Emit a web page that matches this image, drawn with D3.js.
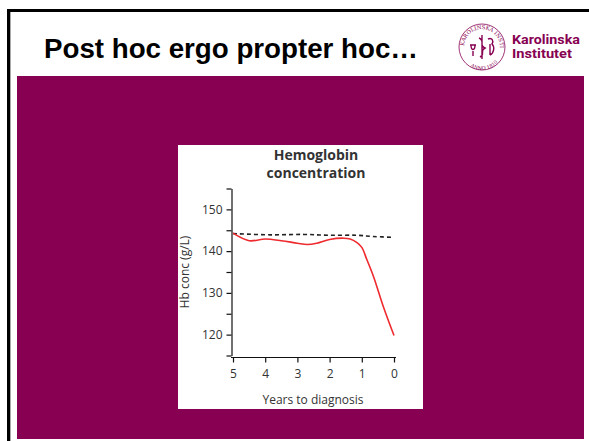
<!DOCTYPE html>
<html>
  <head>
    <title>Post hoc ergo propter hoc</title>
    <script src="https://cdn.jsdelivr.net/npm/d3@7"></script>
    <style type="text/css">

html, body {
  margin: 0;
  padding: 0;
  background: #fff;
}

svg {
  display: block;
}

.tick text, .label {
  font-family: "Open Sans", sans-serif;
  fill: #333;
}

    </style>
  </head>
  <body>
    <script type="text/javascript">

// values
var years = [5, 4.5, 4, 3.5, 3, 2.7, 2.4, 2, 1.57, 1.36, 1.16, 1, 0.85, 0.64, 0.33, 0];
var hbCases = [144.3, 142.5, 142.9, 142.5, 141.9, 141.6, 141.9, 142.8, 143.1, 142.9, 142.1, 140.9, 138.1, 134.0, 126.7, 119.8];
var ctrlYears = [5, 3.84, 2.8, 2, 1.16, 0.64, 0];
var hbControls = [144.2, 143.9, 144.0, 143.8, 143.8, 143.5, 143.3];
var yTicks = [115, 120, 125, 130, 135, 140, 145, 150, 155];
var xTicks = [5, 4, 3, 2, 1, 0];

var purple = "#870052";

var svg = d3.select("body")
  .append("svg")
    .attr("width", 589)
    .attr("height", 441);

// slide frame
svg.append("rect")
    .attr("x", 0).attr("y", 0)
    .attr("width", 589).attr("height", 441)
    .attr("fill", "#fff");
svg.append("path")
    .attr("d", "M8.5,441V10.5H589")
    .attr("fill", "none")
    .attr("stroke", "#000")
    .attr("stroke-width", 3);
svg.append("line")
    .attr("x1", 10.5).attr("x2", 10.5)
    .attr("y1", 12).attr("y2", 441)
    .attr("stroke", "#aaa");

svg.append("text")
    .attr("x", 44)
    .attr("y", 58)
    .attr("font-family", "Liberation Sans, Arial, sans-serif")
    .attr("font-weight", "bold")
    .attr("font-size", 27)
    .attr("fill", "#000")
    .attr("textLength", 374)
    .attr("lengthAdjust", "spacingAndGlyphs")
    .text("Post hoc ergo propter hoc\u2026");

// Karolinska logo
var logo = svg.append("g").attr("transform", "translate(482,47)");
logo.append("circle")
    .attr("r", 23)
    .attr("fill", "none")
    .attr("stroke", purple)
    .attr("stroke-width", 0.8);
logo.append("path")
    .attr("id", "ring")
    .attr("d", "M-18,0A18,18 0 1,1 18,0")
    .attr("fill", "none");
logo.append("text")
    .attr("font-family", "DejaVu Serif, serif")
    .attr("font-size", 5.4)
    .attr("fill", purple)
  .append("textPath")
    .attr("href", "#ring")
    .attr("startOffset", "2%")
    .text("KAROLINSKA INSTITUTET");
logo.append("path")
    .attr("id", "ring2")
    .attr("d", "M-20,3A20,20 0 0,0 20,3")
    .attr("fill", "none");
logo.append("text")
    .attr("font-family", "DejaVu Serif, serif")
    .attr("font-size", 5)
    .attr("fill", purple)
  .append("textPath")
    .attr("href", "#ring2")
    .attr("startOffset", "30%")
    .text("ANNO 1810");
logo.append("path")
    .attr("d", "M0,-12V12M-3,-9C4,-6 -4,-2 3,1C-3,4 4,7 -2,10M-12,-2H-6M-11,-2C-11,4 -7,4 -7,-2M-9,4V9M6,-8C10,-10 12,-6 10,-3C13,0 12,6 8,8M8,-3V8")
    .attr("fill", "none")
    .attr("stroke", purple)
    .attr("stroke-width", 1.4);
svg.append("text")
    .attr("x", 512).attr("y", 43.5)
    .attr("font-family", "Roboto, Liberation Sans, sans-serif")
    .attr("font-weight", "bold")
    .attr("font-size", 12)
    .attr("fill", purple)
    .attr("textLength", 68)
    .attr("lengthAdjust", "spacingAndGlyphs")
    .text("Karolinska");
svg.append("text")
    .attr("x", 512).attr("y", 58)
    .attr("font-family", "Roboto, Liberation Sans, sans-serif")
    .attr("font-weight", "bold")
    .attr("font-size", 12)
    .attr("fill", purple)
    .attr("textLength", 60)
    .attr("lengthAdjust", "spacingAndGlyphs")
    .text("Institutet");

// purple panel and white figure
svg.append("rect")
    .attr("x", 17).attr("y", 76)
    .attr("width", 567).attr("height", 363)
    .attr("fill", purple);
svg.append("rect")
    .attr("x", 178).attr("y", 145)
    .attr("width", 245).attr("height", 264)
    .attr("fill", "#fff");

var x = d3.scaleLinear().domain([5, 0]).range([233, 394]);
var y = d3.scaleLinear().domain([115, 155]).range([355.5, 188.5]);

var yAxis = d3.axisLeft(y)
    .tickValues(yTicks)
    .tickSize(5)
    .tickSizeOuter(0)
    .tickPadding(4)
    .tickFormat(function(d) { return d % 10 === 0 ? d : ""; });

svg.append("g")
    .attr("transform", "translate(231.5,0)")
    .call(yAxis)
    .call(function(g) {
      g.select(".domain").attr("stroke", "#111").attr("stroke-width", 1.2);
      g.selectAll(".tick line").attr("stroke", "#111").attr("stroke-width", 1.2);
      g.selectAll(".tick text").attr("font-size", 12).attr("fill", "#333");
    });

var xAxis = d3.axisBottom(x)
    .tickValues(xTicks)
    .tickSize(5)
    .tickSizeOuter(0)
    .tickPadding(7)
    .tickFormat(d3.format("d"));

svg.append("g")
    .attr("transform", "translate(0,357.5)")
    .call(xAxis)
    .call(function(g) {
      g.select(".domain").attr("d", "M231,0H396").attr("stroke", "#111").attr("stroke-width", 1.2);
      g.selectAll(".tick line").attr("stroke", "#111").attr("stroke-width", 1.2);
      g.selectAll(".tick text").attr("font-size", 12).attr("fill", "#333");
    });

var line = d3.line()
    .x(function(d) { return x(d[0]); })
    .y(function(d) { return y(d[1]); })
    .curve(d3.curveCatmullRom);

svg.append("path")
    .datum(d3.zip(ctrlYears, hbControls))
    .attr("d", line)
    .attr("fill", "none")
    .attr("stroke", "#222")
    .attr("stroke-width", 1.6)
    .attr("stroke-dasharray", "4,3");

svg.append("path")
    .datum(d3.zip(years, hbCases))
    .attr("d", line)
    .attr("fill", "none")
    .attr("stroke", "#ee2a2e")
    .attr("stroke-width", 1.6);

svg.append("text")
    .attr("class", "label")
    .attr("x", 316).attr("y", 160)
    .attr("text-anchor", "middle")
    .attr("font-size", 14)
    .attr("font-weight", "bold")
    .text("Hemoglobin");
svg.append("text")
    .attr("class", "label")
    .attr("x", 316).attr("y", 178)
    .attr("text-anchor", "middle")
    .attr("font-size", 14)
    .attr("font-weight", "bold")
    .text("concentration");

svg.append("text")
    .attr("class", "label")
    .attr("transform", "translate(189,272) rotate(-90)")
    .attr("text-anchor", "middle")
    .attr("font-size", 12)
    .text("Hb conc (g/L)");

svg.append("text")
    .attr("class", "label")
    .attr("x", 313).attr("y", 404)
    .attr("text-anchor", "middle")
    .attr("font-size", 12)
    .text("Years to diagnosis");

    </script>
  </body>
</html>
